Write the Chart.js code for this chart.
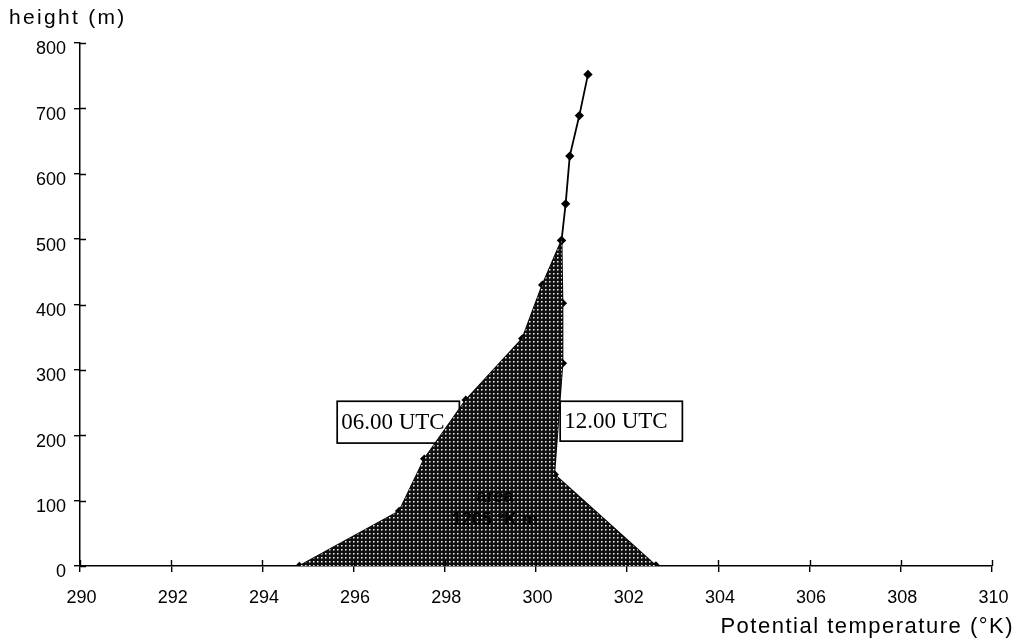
<!DOCTYPE html>
<html>
<head>
<meta charset="utf-8">
<script src="https://cdn.jsdelivr.net/npm/chart.js@4.4.1/dist/chart.umd.min.js"></script>
<style>
  html, body { margin: 0; padding: 0; background: #fff; }
  #wrap { width: 1016px; height: 643px; }
</style>
</head>
<body>
<div id="wrap"><canvas id="c" width="1016" height="643"></canvas></div>
<script>
// Axis ticks
const tempTicks = [290, 292, 294, 296, 298, 300, 302, 304, 306, 308, 310];
const heightTicks = [0, 100, 200, 300, 400, 500, 600, 700, 800];

// Potential temperature profile at 06.00 UTC (K, m)
const profile06T = [294.81, 297.0, 297.55, 298.46, 299.7, 300.14, 300.56];
const profile06H = [0, 84, 164, 254, 348, 430, 498];

// Potential temperature profile at 12.00 UTC (K, m)
const profile12T = [302.63, 300.40, 300.58, 300.58, 300.56, 300.65, 300.74, 300.95, 301.14];
const profile12H = [0, 140, 310, 402, 498, 554, 627, 689, 752];

// Text labels
const seriesNames = ['06.00 UTC', '12.00 UTC'];
const areaText = ['area', '1205 °K m'];

const toPoints = (xs, ys) => xs.map((x, i) => ({ x: x, y: ys[i] }));
const pts06 = toPoints(profile06T, profile06H);
const pts12 = toPoints(profile12T, profile12H);
const topOf06 = profile06H[profile06H.length - 1];
// Closed outline between both profiles, up to where they join
const heatShape = pts06.concat(pts12.filter(p => p.y <= topOf06).reverse());

const canvas = document.getElementById('c');
const ctx = canvas.getContext('2d');

function dotPattern() {
  const t = document.createElement('canvas');
  t.width = 4; t.height = 4;
  const g = t.getContext('2d');
  g.fillStyle = '#101010'; g.fillRect(0, 0, 4, 4);
  g.fillStyle = '#f2f2f2'; g.fillRect(1, 1, 1, 1);
  g.fillStyle = '#8c8c8c'; g.fillRect(2, 1, 1, 1); g.fillRect(1, 2, 1, 1);
  g.fillStyle = '#444'; g.fillRect(2, 2, 1, 1);
  return ctx.createPattern(t, 'repeat');
}

const SANS = '"Liberation Sans", Arial, Helvetica, sans-serif';
const SERIF = '"Liberation Serif", "Times New Roman", serif';

// Labelled boxes for the two profiles, given in data units
const boxes = [
  { text: seriesNames[0], x0: 295.64, x1: 298.32, y0: 252, y1: 188 },
  { text: seriesNames[1], x0: 300.53, x1: 303.21, y0: 252, y1: 191 }
];

const decorations = {
  id: 'decorations',
  beforeDatasetsDraw(chart) {
    const c = chart.ctx, xs = chart.scales.x, ys = chart.scales.y;
    c.save();
    c.font = '23px ' + SERIF;
    c.textBaseline = 'middle';
    c.textAlign = 'left';
    boxes.forEach(b => {
      const l = xs.getPixelForValue(b.x0), r = xs.getPixelForValue(b.x1);
      const t = ys.getPixelForValue(b.y0), btm = ys.getPixelForValue(b.y1);
      c.fillStyle = '#fff';
      c.fillRect(l, t, r - l, btm - t);
      c.strokeStyle = '#000';
      c.lineWidth = 1.7;
      c.strokeRect(l, t, r - l, btm - t);
      c.fillStyle = '#000';
      c.fillText(b.text, l + 4, (t + btm) / 2 + 1);
    });
    c.restore();
  },
  afterDatasetsDraw(chart) {
    const c = chart.ctx, xs = chart.scales.x, ys = chart.scales.y;
    c.save();
    // text inside the shaded area
    c.fillStyle = '#000';
    c.font = 'bold 18px ' + SANS;
    c.textAlign = 'center';
    c.textBaseline = 'middle';
    c.fillText(areaText[0], xs.getPixelForValue(299.1), ys.getPixelForValue(105));
    c.fillText(areaText[1], xs.getPixelForValue(299.1), ys.getPixelForValue(70));

    // inner half of the axis ticks
    c.strokeStyle = '#000';
    c.lineWidth = 1.4;
    const yAxisX = chart.chartArea.left, xAxisY = chart.chartArea.bottom;
    c.beginPath();
    tempTicks.forEach(v => {
      const px = Math.round(xs.getPixelForValue(v)) + 0.5;
      c.moveTo(px, xAxisY); c.lineTo(px, xAxisY - 6);
    });
    heightTicks.forEach(v => {
      const py = Math.round(ys.getPixelForValue(v)) + 0.5;
      c.moveTo(yAxisX, py); c.lineTo(yAxisX + 6, py);
    });
    c.stroke();

    // axis titles
    c.font = '21px ' + SANS;
    c.textAlign = 'left';
    c.textBaseline = 'alphabetic';
    c.letterSpacing = '2.3px';
    c.fillText('height (m)', 9, 24);
    c.font = '22px ' + SANS;
    c.letterSpacing = '1.5px';
    c.textAlign = 'right';
    c.fillText('Potential temperature (°K)', 1014, 633);
    c.restore();
  }
};

new Chart(ctx, {
  type: 'line',
  data: {
    datasets: [
      {
        label: 'area',
        data: heatShape,
        fill: 'shape',
        backgroundColor: dotPattern(),
        borderWidth: 0,
        pointRadius: 0,
        tension: 0,
        order: 0
      },
      {
        label: seriesNames[0],
        data: pts06,
        borderColor: '#000',
        backgroundColor: '#000',
        borderWidth: 1.6,
        pointStyle: 'rectRot',
        pointRadius: 3.2,
        fill: false,
        tension: 0,
        order: 1
      },
      {
        label: seriesNames[1],
        data: pts12,
        borderColor: '#000',
        backgroundColor: '#000',
        borderWidth: 1.8,
        pointStyle: 'rectRot',
        pointRadius: 3.4,
        fill: false,
        tension: 0,
        order: 2
      }
    ]
  },
  options: {
    responsive: false,
    devicePixelRatio: 1,
    animation: false,
    layout: { padding: { left: 0, right: 24, top: 43, bottom: 0 } },
    plugins: {
      legend: { display: false },
      tooltip: { enabled: false },
      title: { display: false }
    },
    scales: {
      x: {
        type: 'linear',
        min: tempTicks[0],
        max: tempTicks[tempTicks.length - 1],
        afterBuildTicks: s => { s.ticks = tempTicks.map(v => ({ value: v })); },
        afterFit: s => { s.height = 77; s.paddingLeft = 0; s.paddingRight = 0; },
        grid: { drawOnChartArea: false, color: '#000', lineWidth: 1.4, tickLength: 6 },
        border: { color: '#000', width: 1.5 },
        ticks: {
          color: '#000',
          font: { family: SANS, size: 18 },
          padding: 15,
          maxRotation: 0,
          labelOffset: 1.5,
          callback: v => String(v)
        }
      },
      y: {
        type: 'linear',
        min: heightTicks[0],
        max: heightTicks[heightTicks.length - 1],
        afterBuildTicks: s => { s.ticks = heightTicks.map(v => ({ value: v })); },
        afterFit: s => { s.width = 80; s.paddingTop = 0; s.paddingBottom = 0; },
        grid: { drawOnChartArea: false, color: '#000', lineWidth: 1.4, tickLength: 6 },
        border: { color: '#000', width: 1.5 },
        ticks: {
          color: '#000',
          font: { family: SANS, size: 18 },
          padding: 8,
          labelOffset: 6.5,
          callback: v => String(v)
        }
      }
    }
  },
  plugins: [decorations]
});
</script>
</body>
</html>
